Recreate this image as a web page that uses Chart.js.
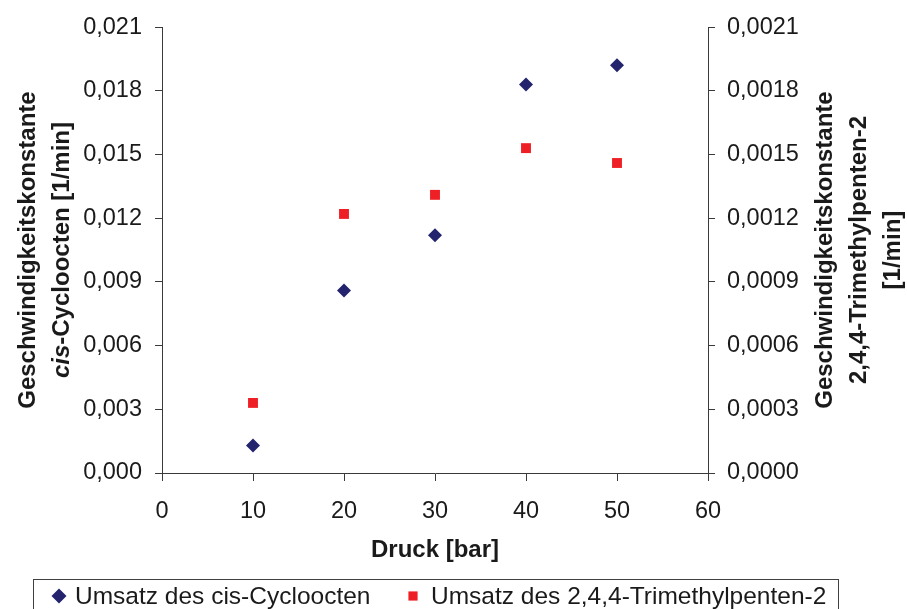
<!DOCTYPE html>
<html lang="de">
<head>
<meta charset="utf-8">
<title>Geschwindigkeitskonstanten vs. Druck</title>
<script src="https://cdn.jsdelivr.net/npm/chart.js@4/dist/chart.umd.min.js"></script>
<style>
  html, body { margin: 0; padding: 0; background: #fff; }
  #wrap { width: 907px; height: 609px; position: relative; }
</style>
</head>
<body>
<div id="wrap"><canvas id="c" width="907" height="609"></canvas></div>
<script>
// Druck in bar
const pressure = [10, 20, 30, 40, 50];
// Geschwindigkeitskonstante cis-Cycloocten [1/min] (linke Achse)
const rateCyclooctene = [0.0013, 0.0086, 0.0112, 0.0183, 0.0192];
// Geschwindigkeitskonstante 2,4,4-Trimethylpenten-2 [1/min] (rechte Achse)
const rateTrimethylpentene = [0.00033, 0.00122, 0.00131, 0.00153, 0.00146];

// Achsenteilungen
const xTicks = [0, 10, 20, 30, 40, 50, 60];
const yLeftTicks = [0, 0.003, 0.006, 0.009, 0.012, 0.015, 0.018, 0.021];
const yLeftLabels = ['0,000', '0,003', '0,006', '0,009', '0,012', '0,015', '0,018', '0,021'];
const yRightTicks = [0, 0.0003, 0.0006, 0.0009, 0.0012, 0.0015, 0.0018, 0.0021];
const yRightLabels = ['0,0000', '0,0003', '0,0006', '0,0009', '0,0012', '0,0015', '0,0018', '0,0021'];

const seriesNames = ['Umsatz des cis-Cycloocten', 'Umsatz des 2,4,4-Trimethylpenten-2'];

const FONT = "'Liberation Sans', Arial, Helvetica, sans-serif";
const NAVY = '#24246E';
const RED = '#EE2026';
const TEXT = '#1a1a1a';
const AXIS = '#3a3a3a';

function pts(xs, ys) { return xs.map((x, i) => ({ x: x, y: ys[i] })); }

function fixedTicks(values) {
  return function (scale) { scale.ticks = values.map(v => ({ value: v })); };
}
function labelFrom(values, labels) {
  return function (value) {
    const i = values.findIndex(v => Math.abs(v - value) < 1e-9);
    return i >= 0 ? labels[i] : '';
  };
}

// Achsentitel (zweizeilig, teils kursiv) und Legendenkasten
const decorations = {
  id: 'decorations',
  afterDraw(chart) {
    const ctx = chart.ctx;
    const ca = chart.chartArea;
    const cy = (ca.top + ca.bottom) / 2;
    const bold = '24px ' + FONT;
    ctx.save();
    ctx.fillStyle = TEXT;
    ctx.textBaseline = 'middle';

    // x-Achsentitel
    ctx.font = 'bold ' + bold;
    ctx.textAlign = 'center';
    ctx.fillText('Druck [bar]', (ca.left + ca.right) / 2, 550);

    // Rotierte Zeile, optional aus mehreren Stücken (Text, kursiv?)
    function vline(x, parts) {
      ctx.save();
      ctx.translate(x, cy);
      ctx.rotate(-Math.PI / 2);
      let total = 0;
      parts.forEach(p => {
        ctx.font = (p[1] ? 'italic ' : '') + 'bold ' + bold;
        total += ctx.measureText(p[0]).width;
      });
      let pos = -total / 2;
      ctx.textAlign = 'left';
      parts.forEach(p => {
        ctx.font = (p[1] ? 'italic ' : '') + 'bold ' + bold;
        ctx.fillText(p[0], pos, 0);
        pos += ctx.measureText(p[0]).width;
      });
      ctx.restore();
    }
    vline(28, [['Geschwindigkeitskonstante', false]]);
    vline(62, [['cis', true], ['-Cycloocten [1/min]', false]]);
    vline(825, [['Geschwindigkeitskonstante', false]]);
    vline(859, [['2,4,4-Trimethylpenten-2', false]]);
    vline(893, [['[1/min]', false]]);

    // Legende
    ctx.strokeStyle = '#404040';
    ctx.lineWidth = 1;
    ctx.strokeRect(33.5, 579.5, 805, 40);
    const ly = 596;
    const items = [
      { mx: 59, tx: 75 },
      { mx: 413, tx: 431 }
    ];
    ctx.font = '24.5px ' + FONT;
    ctx.textAlign = 'left';
    chart.data.datasets.forEach((ds, i) => {
      const it = items[i];
      ctx.fillStyle = ds.backgroundColor;
      ctx.strokeStyle = ds.borderColor;
      Chart.helpers.drawPoint(ctx, {
        pointStyle: ds.pointStyle,
        radius: ds.pointStyle === 'rectRot' ? 7.5 : 6.5,
        rotation: 0,
        borderWidth: 0
      }, it.mx, ly);
      ctx.fillStyle = TEXT;
      ctx.fillText(ds.label, it.tx, ly + 1);
    });
    ctx.restore();
  }
};

const tickFont = { family: FONT, size: 23.5 };

new Chart(document.getElementById('c'), {
  type: 'scatter',
  data: {
    datasets: [
      {
        label: seriesNames[0],
        data: pts(pressure, rateCyclooctene),
        yAxisID: 'y',
        pointStyle: 'rectRot',
        pointRadius: 7,
        pointHoverRadius: 7,
        backgroundColor: NAVY,
        borderColor: NAVY,
        borderWidth: 0
      },
      {
        label: seriesNames[1],
        data: pts(pressure, rateTrimethylpentene),
        yAxisID: 'y2',
        pointStyle: 'rect',
        pointRadius: 7,
        pointHoverRadius: 7,
        backgroundColor: RED,
        borderColor: RED,
        borderWidth: 0
      }
    ]
  },
  options: {
    responsive: false,
    animation: false,
    events: [],
    layout: { padding: { top: 25, left: 0, right: 0, bottom: 0 } },
    plugins: {
      legend: { display: false },
      tooltip: { enabled: false },
      title: { display: false }
    },
    scales: {
      x: {
        type: 'linear',
        position: 'bottom',
        min: 0,
        max: 60,
        afterBuildTicks: fixedTicks(xTicks),
        afterFit(scale) { scale.height = 136; },
        ticks: { font: tickFont, color: TEXT, padding: 16, maxRotation: 0, autoSkip: false },
        grid: { drawOnChartArea: false, drawTicks: true, tickLength: 8, color: AXIS, tickColor: AXIS },
        border: { display: true, color: AXIS, width: 1 }
      },
      y: {
        type: 'linear',
        position: 'left',
        min: 0,
        max: 0.021,
        afterBuildTicks: fixedTicks(yLeftTicks),
        afterFit(scale) { scale.width = 162; },
        ticks: { font: tickFont, color: TEXT, padding: 13, autoSkip: false,
                 callback: labelFrom(yLeftTicks, yLeftLabels) },
        grid: { drawOnChartArea: false, drawTicks: true, tickLength: 7, color: AXIS, tickColor: AXIS },
        border: { display: true, color: AXIS, width: 1 }
      },
      y2: {
        type: 'linear',
        position: 'right',
        min: 0,
        max: 0.0021,
        afterBuildTicks: fixedTicks(yRightTicks),
        afterFit(scale) { scale.width = 199; },
        ticks: { font: tickFont, color: TEXT, padding: 12, autoSkip: false,
                 callback: labelFrom(yRightTicks, yRightLabels) },
        grid: { drawOnChartArea: false, drawTicks: true, tickLength: 7, color: AXIS, tickColor: AXIS },
        border: { display: true, color: AXIS, width: 1 }
      }
    }
  },
  plugins: [decorations]
});
</script>
</body>
</html>
